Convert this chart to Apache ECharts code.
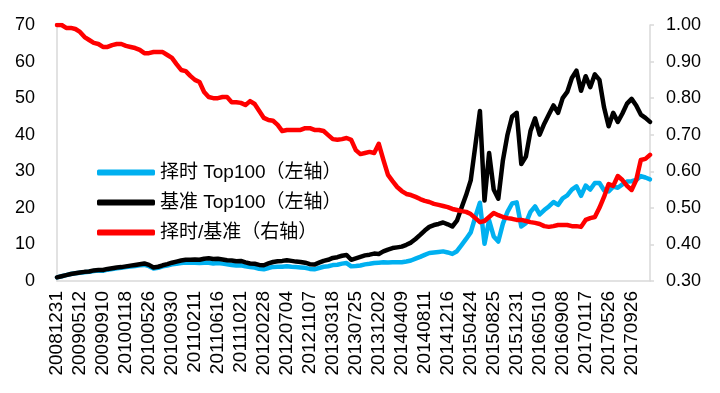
<!DOCTYPE html>
<html>
<head>
<meta charset="utf-8">
<script src="https://cdn.jsdelivr.net/npm/echarts@6/dist/echarts.min.js"></script>
<style>
html,body{margin:0;padding:0;background:#fff;}
#c{width:720px;height:393px;}
</style>
</head>
<body>
<div id="c"></div>
<script>
var dates = [
'20081231','20090203','20090226','20090320','20090415',
'20090512','20090604','20090701','20090724','20090818',
'20090910','20091012','20091104','20091126','20091221',
'20100118','20100209','20100310','20100402','20100429',
'20100526','20100623','20100716','20100809','20100901',
'20100930','20101029','20101122','20101215','20110111',
'20110211','20110308','20110331','20110426','20110519',
'20110616','20110711','20110803','20110826','20110921',
'20111021','20111115','20111208','20120104','20120203',
'20120228','20120322','20120419','20120516','20120608',
'20120704','20120727','20120821','20120913','20121016',
'20121107','20121130','20121225','20130121','20130221',
'20130318','20130411','20130509','20130605','20130701',
'20130725','20130816','20130910','20131009','20131031',
'20131202','20131224','20140117','20140217','20140312',
'20140409','20140505','20140528','20140620','20140715',
'20140811','20140902','20140925','20141027','20141119',
'20141216','20150109','20150203','20150305','20150330',
'20150424','20150519','20150611','20150706','20150729',
'20150825','20150921','20151022','20151113','20151208',
'20151231','20160126','20160224','20160317','20160412',
'20160510','20160602','20160629','20160721','20160815',
'20160908','20161010','20161101','20161123','20161216',
'20170117','20170215','20170309','20170331','20170428',
'20170526','20170620','20170713','20170804','20170829',
'20170926','20171025','20171117','20171212','20180108'
];

var timingTop100 = [
1.0,1.3,1.6,1.9,2.1,2.25,2.4,2.5,2.75,2.85,
2.8,3.1,3.3,3.5,3.6,3.8,3.95,4.1,4.3,4.4,
4.05,3.4,3.6,4.0,4.2,4.55,4.7,4.9,5.05,5.0,
5.0,4.9,5.0,5.0,4.8,4.9,4.75,4.6,4.4,4.25,
4.3,4.0,3.8,3.7,3.35,3.2,3.55,3.85,3.9,3.9,
4.05,3.9,3.8,3.7,3.6,3.3,3.2,3.55,3.9,4.05,
4.35,4.45,4.75,4.9,4.0,4.1,4.25,4.55,4.7,4.9,
5.0,5.1,5.05,5.15,5.1,5.15,5.35,5.6,6.1,6.6,
7.15,7.65,7.8,7.95,8.1,7.8,7.4,8.15,9.8,11.5,
13.3,17.5,21.4,10.2,16.6,12.2,10.8,15.7,18.9,21.2,
21.5,14.9,15.8,18.9,20.4,18.2,19.4,20.4,21.6,20.8,
22.6,23.4,25.0,25.9,23.3,26.1,25.0,26.8,26.8,24.8,
24.5,25.8,25.5,26.4,27.2,27.3,27.6,28.7,28.3,27.8
];

var benchTop100 = [
1.0,1.3,1.6,1.9,2.1,2.3,2.5,2.6,2.9,3.0,
3.0,3.3,3.5,3.7,3.8,4.0,4.2,4.4,4.6,4.8,
4.4,3.7,3.9,4.3,4.6,5.0,5.3,5.6,5.8,5.8,
5.9,5.8,6.1,6.2,6.0,6.1,5.9,5.7,5.6,5.4,
5.5,5.1,4.8,4.7,4.4,4.3,4.8,5.2,5.4,5.5,
5.7,5.5,5.3,5.2,5.0,4.6,4.5,5.0,5.5,5.8,
6.3,6.5,6.9,7.1,5.8,6.2,6.6,7.0,7.2,7.5,
7.4,8.1,8.6,9.0,9.2,9.4,9.9,10.5,11.5,12.6,
13.8,14.8,15.3,15.6,16.0,15.5,14.9,16.5,20.0,23.5,
27.5,37.0,46.5,22.0,35.0,25.0,22.5,33.0,40.0,45.0,
46.0,32.0,34.0,41.0,44.5,40.0,43.0,45.5,48.0,46.0,
50.0,51.7,55.5,57.5,52.0,56.0,53.0,56.5,55.0,47.5,
42.3,46.0,43.5,45.8,48.5,49.8,48.0,45.5,44.6,43.5
];

var ratio = [
1.000,1.000,0.992,0.992,0.989,0.981,0.967,0.959,0.951,0.948,
0.940,0.940,0.945,0.948,0.948,0.943,0.940,0.937,0.932,0.923,
0.923,0.926,0.926,0.926,0.918,0.910,0.893,0.877,0.874,0.861,
0.850,0.844,0.817,0.803,0.800,0.800,0.803,0.803,0.789,0.789,
0.787,0.781,0.792,0.784,0.765,0.746,0.740,0.738,0.727,0.710,
0.713,0.713,0.713,0.713,0.718,0.718,0.713,0.713,0.710,0.699,
0.688,0.686,0.688,0.691,0.686,0.658,0.647,0.650,0.653,0.650,
0.675,0.631,0.590,0.573,0.557,0.546,0.538,0.535,0.530,0.524,
0.519,0.516,0.511,0.508,0.505,0.502,0.497,0.494,0.491,0.489,
0.483,0.472,0.461,0.464,0.475,0.486,0.480,0.475,0.472,0.470,
0.467,0.467,0.464,0.461,0.459,0.456,0.450,0.448,0.450,0.453,
0.453,0.453,0.450,0.450,0.448,0.467,0.472,0.475,0.500,0.530,
0.565,0.560,0.587,0.576,0.560,0.549,0.576,0.631,0.634,0.645
];

var seriesNames = ['择时 Top100（左轴）', '基准 Top100（左轴）', '择时/基准（右轴）'];
var leftTicks = {min: 0, max: 70, interval: 10};
var rightTicks = {min: 0.3, max: 1.0, interval: 0.1};

var FONT = "'Liberation Sans', Arial, 'Noto Sans CJK SC', sans-serif";
var LEGEND_FONT = "'Liberation Sans', Arial, 'Noto Sans CJK TC', sans-serif";
var chart = echarts.init(document.getElementById('c'), null, {renderer: 'canvas'});
chart.setOption({
  animation: false,
  backgroundColor: '#ffffff',
  grid: {left: 57, right: 70, top: 25, bottom: 112, containLabel: false},
  legend: {
    data: seriesNames,
    orient: 'vertical',
    left: 92,
    top: 158,
    itemWidth: 58,
    itemHeight: 6,
    itemGap: 11,
    icon: 'roundRect',
    textStyle: {fontSize: 19, lineHeight: 19, color: '#000', fontFamily: LEGEND_FONT}
  },
  xAxis: {
    type: 'category',
    data: dates,
    boundaryGap: false,
    axisLine: {lineStyle: {color: '#d9d9d9', width: 1.5}},
    axisTick: {show: false},
    axisLabel: {rotate: 90, interval: 4, fontSize: 19, color: '#000', margin: 10, fontFamily: FONT},
    splitLine: {show: false}
  },
  yAxis: [
    {
      type: 'value', position: 'left',
      min: leftTicks.min, max: leftTicks.max, interval: leftTicks.interval,
      axisLine: {show: true, lineStyle: {color: '#d9d9d9', width: 1.5}},
      axisTick: {show: false},
      splitLine: {show: false},
      axisLabel: {fontSize: 18, color: '#000', margin: 22, fontFamily: FONT}
    },
    {
      type: 'value', position: 'right',
      min: rightTicks.min, max: rightTicks.max, interval: rightTicks.interval,
      axisLine: {show: true, lineStyle: {color: '#d9d9d9', width: 1.5}},
      axisTick: {show: true, length: 4, lineStyle: {color: '#d9d9d9', width: 1.5}},
      splitLine: {show: false},
      axisLabel: {fontSize: 18, color: '#000', margin: 16, fontFamily: FONT,
        formatter: function (v) { return v.toFixed(2); }}
    }
  ],
  series: [
    {name: seriesNames[0], type: 'line', yAxisIndex: 0, data: timingTop100, showSymbol: false,
     color: '#00B0F0', lineStyle: {width: 4.5, color: '#00B0F0', cap: 'round', join: 'round'}},
    {name: seriesNames[1], type: 'line', yAxisIndex: 0, data: benchTop100, showSymbol: false,
     color: '#000000', lineStyle: {width: 4.5, color: '#000000', cap: 'round', join: 'round'}},
    {name: seriesNames[2], type: 'line', yAxisIndex: 1, data: ratio, showSymbol: false,
     color: '#FF0000', lineStyle: {width: 4.5, color: '#FF0000', cap: 'round', join: 'round'}}
  ]
});
</script>
</body>
</html>
